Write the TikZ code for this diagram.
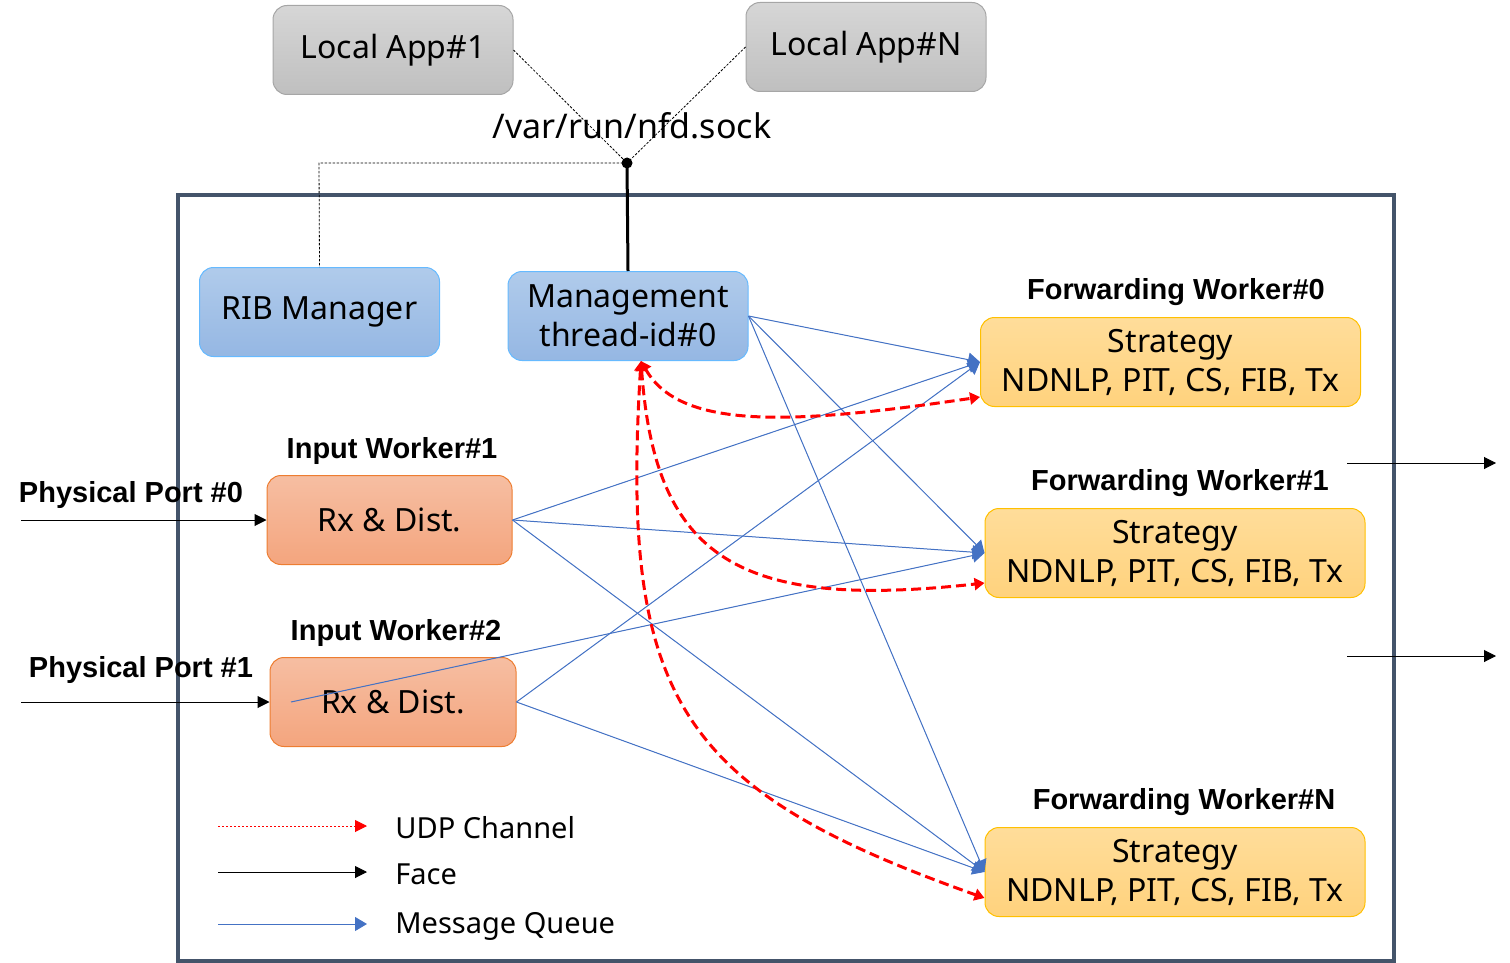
\documentclass[tikz,border=0pt]{standalone}
\usepackage{fontspec}
\setmainfont{Noto Sans}
\newfontfamily\labfont{Liberation Sans}
\usetikzlibrary{arrows.meta}
\definecolor{frameC}{HTML}{44546A}
\definecolor{msgC}{HTML}{4472C4}
\definecolor{udpC}{HTML}{FF0000}
\begin{document}
\begin{tikzpicture}[x=0.5pt,y=-0.5pt,
  box/.style={rounded corners=7pt, minimum width=120pt, minimum height=44.5pt, align=center, inner sep=0pt, font=\fontsize{16}{19.5}\selectfont, line width=0.5pt},
  appbox/.style={box, draw=black!35, top color=black!16, bottom color=black!25},
  mgrbox/.style={box, draw=blue!45!cyan!60, top color={rgb,255:red,176;green,203;blue,235}, bottom color={rgb,255:red,149;green,183;blue,227}},
  inbox/.style={box, draw={rgb,255:red,237;green,125;blue,49}, top color={rgb,255:red,246;green,190;blue,162}, bottom color={rgb,255:red,244;green,165;blue,126}},
  fwbox/.style={box, minimum width=190pt, draw={rgb,255:red,255;green,192;blue,0}, top color={rgb,255:red,255;green,221;blue,154}, bottom color={rgb,255:red,255;green,210;blue,125}},
  blabel/.style={font=\labfont\fontsize{14.5}{17}\selectfont\bfseries, inner sep=0pt},
  ltext/.style={font=\fontsize{14.5}{17}\selectfont, anchor=west, inner sep=0pt},
  msg/.style={draw=msgC, line width=0.5pt, -{Triangle[length=6pt,width=7pt]}, fill=msgC},
  udp/.style={draw=udpC, line width=1.5pt, dash pattern=on 5pt off 2.5pt, {Triangle[length=5pt,width=6pt]}-{Triangle[length=5pt,width=6pt]}},
  face/.style={draw=black, line width=0.5pt, -{Triangle[length=6pt,width=6pt]}},
  sockline/.style={draw=black, line width=0.4pt, dash pattern=on 1.2pt off 0.8pt}
]
\useasboundingbox (0,0) rectangle (1510,963);
% frame
\draw[frameC, line width=1.7pt] (178,195) rectangle (1394,961);

% apps
\node[appbox] (app1) at (393,50) {Local App\#1};
\node[appbox] (appN) at (866,47) {Local App\#N};
\node[font=\fontsize{17}{20}\selectfont, inner sep=0pt] (sock) at (632,126) {/var/run/nfd.sock};
\coordinate (dot) at (627,163);
\coordinate (ribtop) at (319,163);

% managers
\node[mgrbox] (rib) at (319.5,312) {RIB Manager};
\node[mgrbox] (mgmt) at (628,316) {Management\\thread-id\#0};

% socket connections
\draw[sockline] (app1.east) -- (dot);
\draw[sockline] (appN.west) -- (dot);
\draw[sockline] (dot) -- (ribtop) -- (rib.north);
\draw[black, line width=1.5pt] (dot) -- (mgmt.north);
\fill (dot) circle (5.5);

% forwarding workers
\node[fwbox] (fw0) at (1170.5,362) {Strategy\\NDNLP, PIT, CS, FIB, Tx};
\node[blabel] (fw0l) at (1176,292) {Forwarding Worker\#0};
\node[fwbox] (fw1) at (1175,553) {Strategy\\NDNLP, PIT, CS, FIB, Tx};
\node[blabel] (fw1l) at (1180,483) {Forwarding Worker\#1};
\node[fwbox] (fwN) at (1175,872) {Strategy\\NDNLP, PIT, CS, FIB, Tx};
\node[blabel] (fwNl) at (1184,802) {Forwarding Worker\#N};

% input workers
\node[inbox, minimum width=122.5pt] (in1) at (389.5,520) {Rx \& Dist.};
\node[blabel] (in1l) at (392,451) {Input Worker\#1};
\node[inbox, minimum width=123pt] (in2) at (393,702) {Rx \& Dist.};
\node[blabel] (in2l) at (396,633) {Input Worker\#2};

% physical ports
\node[blabel] (pp0) at (131,495) {Physical Port \#0};
\node[blabel] (pp1) at (141,670) {Physical Port \#1};
\coordinate (p0s) at (21,520);
\coordinate (p1s) at (21,702);
\draw[face] (p0s) -- (in1.west);
\draw[face] (p1s) -- (in2.west);

% output faces
\coordinate (o0s) at (1347,463);
\coordinate (o0e) at (1496,463);
\coordinate (o1s) at (1347,656);
\coordinate (o1e) at (1496,656);
\draw[face] (o0s) -- (o0e);
\draw[face] (o1s) -- (o1e);

% message queues
\coordinate (in2in) at (291,702);
\draw[msg] (mgmt.east) -- (fw0.west);
\draw[msg] (mgmt.east) -- (fw1.west);
\draw[msg] (mgmt.east) -- (fwN.west);
\draw[msg] (in1.east) -- (fw0.west);
\draw[msg] (in1.east) -- (fw1.west);
\draw[msg] (in1.east) -- (fwN.west);
\draw[msg] (in2.east) -- (fw0.west);
\draw[msg] (in2in) -- (fw1.west);
\draw[msg] (in2.east) -- (fwN.west);

% UDP channels
\coordinate (udps) at ([xshift=6.5pt]mgmt.south);
\coordinate (u0) at ([yshift=-17.5pt]fw0.west);
\coordinate (u1) at ([yshift=-15pt]fw1.west);
\coordinate (uN) at ([yshift=-13pt]fwN.west);
\draw[udp] (udps) .. controls (680,430) and (790,425) .. (u0);
\draw[udp] (udps) .. controls (655,560) and (740,610) .. (u1);
\draw[udp] (udps) .. controls (620,700) and (680,790) .. (uN);

% legend
\coordinate (l1s) at (218,826); \coordinate (l1e) at (367,826);
\coordinate (l2s) at (218,872); \coordinate (l2e) at (367,872);
\coordinate (l3s) at (218,924); \coordinate (l3e) at (367,924);
\draw[draw=udpC, line width=0.5pt, dash pattern=on 1.2pt off 0.8pt, -{Triangle[length=6pt,width=6pt]}] (l1s) -- (l1e);
\draw[face] (l2s) -- (l2e);
\draw[msg] (l3s) -- (l3e);
\node[ltext] (lt1) at (395,828) {UDP Channel};
\node[ltext] (lt2) at (395,874) {Face};
\node[ltext] (lt3) at (395,926) {Message Queue};
\end{tikzpicture}
\end{document}
